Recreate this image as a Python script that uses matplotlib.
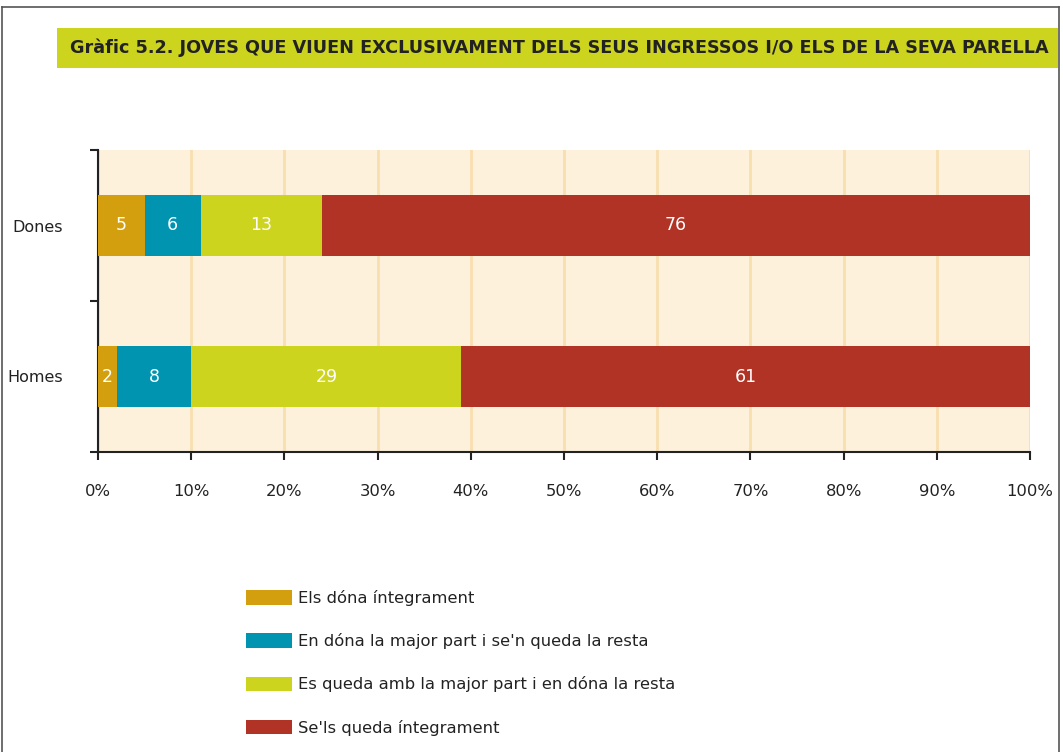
import matplotlib
matplotlib.use("Agg")
import matplotlib.pyplot as plt
from matplotlib.patches import Rectangle, Patch
from matplotlib.lines import Line2D

plt.rcParams['font.family'] = ['DejaVu Sans']

categories = ["Homes", "Dones"]
series_names = ["Els dóna íntegrament",
                "En dóna la major part i se'n queda la resta",
                "Es queda amb la major part i en dóna la resta",
                "Se'ls queda íntegrament"]
values = {
    "Els dóna íntegrament": [2, 5],
    "En dóna la major part i se'n queda la resta": [8, 6],
    "Es queda amb la major part i en dóna la resta": [29, 13],
    "Se'ls queda íntegrament": [61, 76],
}
colors = ["#d49f0f", "#0094b0", "#cdd41e", "#b03326"]
xticks = [0, 10, 20, 30, 40, 50, 60, 70, 80, 90, 100]
title = "Gràfic 5.2. JOVES QUE VIUEN EXCLUSIVAMENT DELS SEUS INGRESSOS I/O ELS DE LA SEVA PARELLA"

W, H = 1063, 752
fig = plt.figure(figsize=(W / 100, H / 100), dpi=100)
fig.patch.set_facecolor("white")

# page frame lines
for xs, ys in [([2, 2], [752, 7]), ([1059, 1059], [752, 7]), ([2, 1059], [7, 7])]:
    fig.add_artist(Line2D([x / W for x in xs], [1 - y / H for y in ys], color="#555555",
                          lw=1.2, transform=fig.transFigure))

# title box
fig.add_artist(Rectangle((57 / W, 1 - 68 / H), (1058 - 57) / W, 40 / H,
                         facecolor="#cdd41e", edgecolor="none", transform=fig.transFigure))
t = fig.text(70 / W, 1 - 48 / H, title, fontsize=14, fontweight="bold", color="#222222",
             va="center", ha="left")
r = fig.canvas.get_renderer()
w = t.get_window_extent(r).width
t.set_fontsize(14 * 978 / w)

ax = fig.add_axes([98 / W, 1 - 452 / H, 932 / W, 302 / H])
ax.set_facecolor("#fdf1dc")
ypos = [0.5, 1.5]
left = [0, 0]
for name, c in zip(series_names, colors):
    vals = values[name]
    ax.barh(ypos, vals, left=left, height=0.405, color=c, label=name, zorder=3)
    for y, v, l in zip(ypos, vals, left):
        ax.text(l + v / 2, y, str(v), color="white", ha="center", va="center", fontsize=12.5, zorder=4)
    left = [a + b for a, b in zip(left, vals)]

ax.set_xlim(0, 100)
ax.set_ylim(0, 2)
ax.set_xticks(xticks)
ax.set_xticklabels([f"{t}%" for t in xticks], fontsize=11.8, color="#222222")
ax.set_yticks([0, 1, 2])
ax.set_yticklabels([])
ax.set_yticks(ypos, minor=True)
ax.set_yticklabels(categories, minor=True, fontsize=11.5, color="#222222")
ax.tick_params(axis="y", which="minor", length=0, pad=25)
ax.tick_params(axis="y", which="major", length=6, width=1.5, color="#222222")
ax.tick_params(axis="x", length=6, width=1.5, color="#222222", pad=17)
ax.grid(axis="x", color="#f8dfb0", lw=2, zorder=1)
for s in ["top", "right"]:
    ax.spines[s].set_visible(False)
for s in ["left", "bottom"]:
    ax.spines[s].set_linewidth(1.5)
    ax.spines[s].set_color("#222222")

handles = [Patch(facecolor=c, edgecolor="none") for c in colors]
fig.legend(handles, series_names, loc="upper left", bbox_to_anchor=(246 / W, 1 - 590 / H),
           frameon=False, fontsize=11.8, handlelength=2.8, handleheight=0.98,
           handletextpad=0.37, labelspacing=1.66, borderpad=0, borderaxespad=0,
           labelcolor="#222222")

fig.savefig("out.png", dpi=100, facecolor="white")
